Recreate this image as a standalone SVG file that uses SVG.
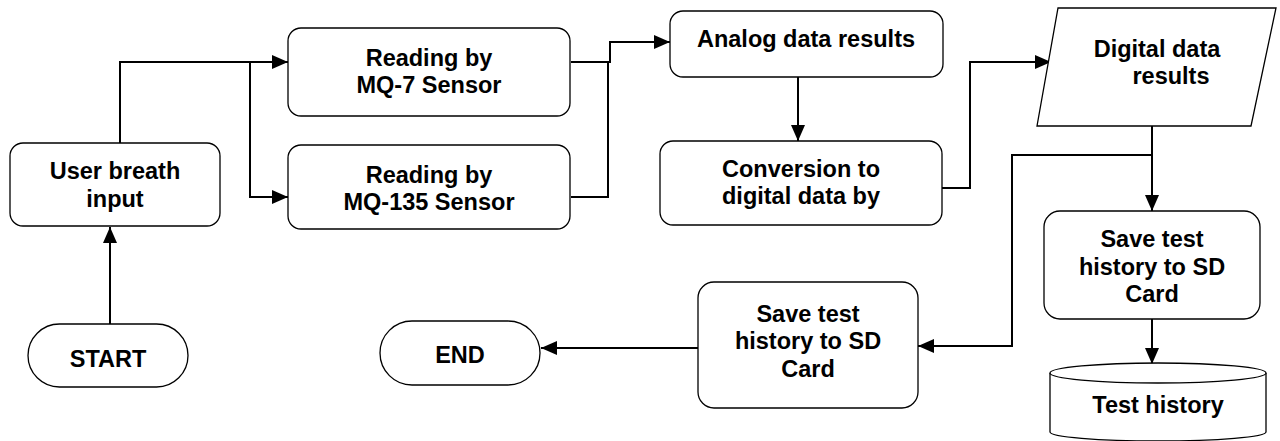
<svg xmlns="http://www.w3.org/2000/svg" width="1280" height="441" viewBox="0 0 1280 441">
<style>
.box{fill:#fff;stroke:#000;stroke-width:1.3}
.t{font-family:"Liberation Sans",Arial,sans-serif;font-weight:bold;font-size:23.5px;fill:#000;text-anchor:middle}
.c{fill:none;stroke:#000;stroke-width:2}
</style>
<defs>
<marker id="ah" markerWidth="16" markerHeight="14" refX="16" refY="7" orient="auto" markerUnits="userSpaceOnUse"><path d="M0,0 L16,7 L0,14 z" fill="#000"/></marker>
</defs>
<rect width="1280" height="441" fill="#fff"/>
<g id="connectors">
<path class="c" d="M110,324 V227" marker-end="url(#ah)"/>
<path class="c" d="M120,143 V62 H288" marker-end="url(#ah)"/>
<path class="c" d="M250,62 V197 H288" marker-end="url(#ah)"/>
<path class="c" d="M571,62 H610 V42 H670" marker-end="url(#ah)"/>
<path class="c" d="M571,197 H608 V62"/>
<path class="c" d="M798,77 V141" marker-end="url(#ah)"/>
<path class="c" d="M942,188 H970 V62 H1051" marker-end="url(#ah)"/>
<path class="c" d="M1152,126 V211" marker-end="url(#ah)"/>
<path class="c" d="M1152,155 H1012 V346 H918" marker-end="url(#ah)"/>
<path class="c" d="M1152,319 V364" marker-end="url(#ah)"/>
<path class="c" d="M698,348 H541" marker-end="url(#ah)"/>
</g>
<g id="user">
<rect class="box" x="10" y="143" width="210" height="83" rx="13"/>
<text class="t" x="115" y="179">User breath</text>
<text class="t" x="115" y="207">input</text>
</g>
<g id="start">
<rect class="box" x="28" y="324" width="160" height="63" rx="31.5"/>
<text class="t" x="108" y="367">START</text>
</g>
<g id="mq7">
<rect class="box" x="288" y="28" width="282" height="88" rx="13"/>
<text class="t" x="429" y="66">Reading by</text>
<text class="t" x="429" y="93">MQ-7 Sensor</text>
</g>
<g id="mq135">
<rect class="box" x="288" y="145" width="282" height="84" rx="13"/>
<text class="t" x="429" y="183">Reading by</text>
<text class="t" x="429" y="210">MQ-135 Sensor</text>
</g>
<g id="analog">
<rect class="box" x="670" y="11" width="273" height="66" rx="13"/>
<text class="t" x="806" y="47">Analog data results</text>
</g>
<g id="conversion">
<rect class="box" x="660" y="141" width="282" height="84" rx="13"/>
<text class="t" x="801" y="177">Conversion to</text>
<text class="t" x="801" y="204">digital data by</text>
</g>
<g id="digital">
<polygon class="box" points="1058,8 1276,8 1251,126 1037,126"/>
<text class="t" x="1157" y="57">Digital data</text>
<text class="t" x="1171" y="84">results</text>
</g>
<g id="save1">
<rect class="box" x="1044" y="211" width="216" height="108" rx="16"/>
<text class="t" x="1152" y="247">Save test</text>
<text class="t" x="1152" y="275">history to SD</text>
<text class="t" x="1152" y="302">Card</text>
</g>
<g id="history">
<path class="box" d="M1050,373 V432 A108,9 0 0 0 1266,432 V373"/>
<ellipse class="box" cx="1158" cy="373" rx="108" ry="10"/>
<text class="t" x="1158" y="413">Test history</text>
</g>
<g id="save2">
<rect class="box" x="698" y="282" width="220" height="126" rx="16"/>
<text class="t" x="808" y="322">Save test</text>
<text class="t" x="808" y="349">history to SD</text>
<text class="t" x="808" y="377">Card</text>
</g>
<g id="end">
<rect class="box" x="380" y="321" width="160" height="64" rx="32"/>
<text class="t" x="460" y="363">END</text>
</g>
</svg>
